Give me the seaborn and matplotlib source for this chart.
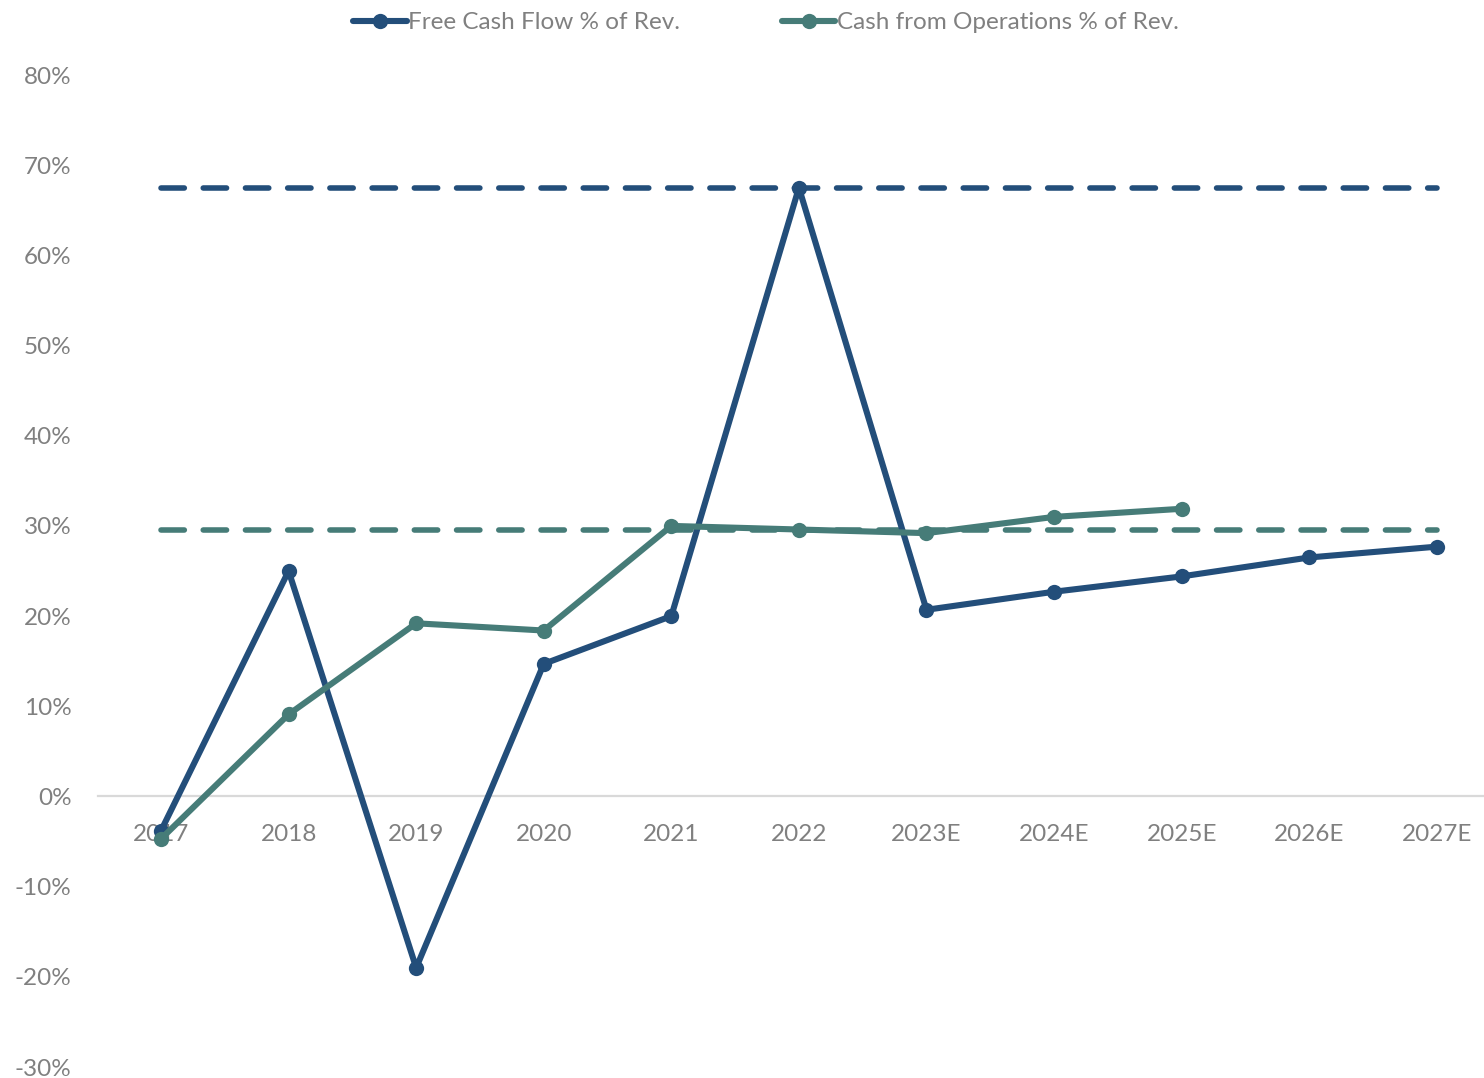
import numpy as np
import pandas as pd
import matplotlib
matplotlib.use("Agg")
import matplotlib.pyplot as plt
import seaborn as sns
from matplotlib.ticker import FuncFormatter

# Data
years = ["2017", "2018", "2019", "2020", "2021", "2022",
         "2023E", "2024E", "2025E", "2026E", "2027E"]
fcf_pct = [-3.8, 25.0, -19.0, 14.7, 20.0, 67.5, 20.7, 22.7, 24.4, 26.5, 27.7]
cfo_pct = [-4.7, 9.1, 19.2, 18.4, 30.0, 29.6, 29.2, 31.0, 31.9, np.nan, np.nan]
fcf_ref = 67.5   # reference level for free cash flow
cfo_ref = 29.5   # reference level for cash from operations

fcf_name = "Free Cash Flow % of Rev."
cfo_name = "Cash from Operations % of Rev."

blue = "#234E7A"
teal = "#467C78"
text_gray = "#808080"

sns.set_theme(style="white")
plt.rcParams["font.family"] = ["Lato", "DejaVu Sans"]

df = pd.DataFrame({
    "pos": list(range(len(years))) * 2,
    "value": fcf_pct + cfo_pct,
    "series": [fcf_name] * len(years) + [cfo_name] * len(years),
})

fig = plt.figure(figsize=(14.84, 10.78), dpi=100)
ax = fig.add_axes([98 / 1484, 1 - 1067 / 1078, (1484 - 98) / 1484, (1067 - 75) / 1078])

x_pos = np.arange(len(years))
# Reference dashed levels
ax.plot([x_pos[0], x_pos[-1]], [fcf_ref, fcf_ref], color=blue, lw=4,
        ls=(0, (4.2, 3.4)), dash_capstyle="round", zorder=1)
ax.plot([x_pos[0], x_pos[-1]], [cfo_ref, cfo_ref], color=teal, lw=4,
        ls=(0, (4.2, 3.4)), dash_capstyle="round", zorder=1)

sns.lineplot(data=df.dropna(), x="pos", y="value", hue="series",
             hue_order=[fcf_name, cfo_name], palette=[blue, teal],
             marker="o", markersize=11, markeredgewidth=0, linewidth=4.4,
             sort=False, ax=ax, legend=False, zorder=3)

ax.set_xlim(-0.494, 10.37)
ax.set_ylim(-30, 80)
ax.set_yticks(np.arange(-30, 81, 10))
ax.yaxis.set_major_formatter(FuncFormatter(lambda v, p: f"{int(round(v))}%"))
ax.set_xticks(x_pos)
ax.set_xticklabels(years)
ax.set_xlabel("")
ax.set_ylabel("")

for s in ["top", "right", "left"]:
    ax.spines[s].set_visible(False)
ax.spines["bottom"].set_position(("data", 0))
ax.spines["bottom"].set_color("#D9D9D9")
ax.spines["bottom"].set_linewidth(1.6)
ax.spines["bottom"].set_zorder(0)

ax.tick_params(axis="x", length=0, pad=20, labelsize=17.5, labelcolor=text_gray)
ax.tick_params(axis="y", length=0, pad=19, labelsize=17.5, labelcolor=text_gray)

handles = [
    plt.Line2D([], [], color=blue, lw=4.4, marker="o", markersize=11, markeredgewidth=0),
    plt.Line2D([], [], color=teal, lw=4.4, marker="o", markersize=11, markeredgewidth=0),
]
leg = fig.legend(handles, [fcf_name, cfo_name], loc="upper center",
                 bbox_to_anchor=(0.516, 1.009), ncol=2, frameon=False,
                 fontsize=17.5, handlelength=2.2, handletextpad=0.05,
                 columnspacing=4.2)
for t in leg.get_texts():
    t.set_color(text_gray)

fig.savefig("out.png", dpi=100)
